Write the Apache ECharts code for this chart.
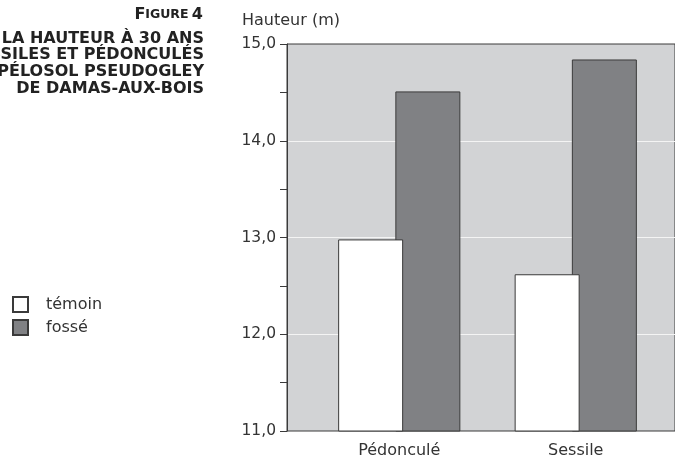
<!DOCTYPE html>
<html>
<head>
<meta charset="utf-8">
<script src="https://cdn.jsdelivr.net/npm/echarts@6/dist/echarts.min.js"></script>
<style>
  html, body { margin: 0; padding: 0; background: #fff; }
  #chart { width: 675px; height: 462px; }
</style>
</head>
<body>
<div id="chart"></div>
<script>
// data
const categories = ["Pédonculé", "Sessile"];
const temoin = [12.98, 12.62];
const fosse = [14.51, 14.84];
const yMin = 11;
const yMax = 15;
const titleLines = [
  "LA HAUTEUR À 30 ANS",
  "DES CHÊNES SESSILES ET PÉDONCULÉS",
  "SUR PÉLOSOL PSEUDOGLEY",
  "DE DAMAS-AUX-BOIS"
];

const FONT = "DejaVu Sans";
const INK = "#333333";
const EDGE = "#3a3a3a";

const chart = echarts.init(document.getElementById("chart"));

const fmt = v => v.toFixed(1).replace(".", ",");

const option = {
  animation: false,
  textStyle: { fontFamily: FONT },
  graphic: [
    {
      type: "text",
      x: 203,
      y: 15,
      style: {
        text: "{big|F}{small|IGURE} {big|4}",
        align: "right",
        verticalAlign: "middle",
        rich: {
          big: { fontSize: 16, fontWeight: "bold", fill: "#222", fontFamily: FONT },
          small: { fontSize: 12.5, fontWeight: "bold", fill: "#222", fontFamily: FONT }
        }
      }
    },
    ...titleLines.map((t, i) => ({
      type: "text",
      x: 204,
      y: 38.5 + i * 16.7,
      style: {
        text: t,
        align: "right",
        verticalAlign: "middle",
        fontSize: 16,
        fontWeight: "bold",
        fontFamily: FONT,
        fill: "#222"
      }
    }))
  ],
  legend: {
    orient: "vertical",
    left: 7,
    top: 291,
    itemWidth: 15,
    itemHeight: 15,
    itemGap: 6,
    icon: "rect",
    textStyle: { fontSize: 16, color: INK, fontFamily: FONT, padding: [0, 0, 0, 13] },
    data: ["témoin", "fossé"]
  },
  grid: [
    {
      left: 287,
      right: -20,
      top: 44,
      bottom: 31,
      show: true,
      backgroundColor: "#d2d3d5",
      borderColor: EDGE,
      borderWidth: 1
    },
    {
      left: 311,
      width: 353,
      top: 44,
      bottom: 31
    }
  ],
  xAxis: [
    { gridIndex: 0, type: "value", show: false },
    {
      gridIndex: 1,
      type: "category",
      data: categories,
      axisLine: { show: false },
      axisTick: { show: false },
      axisLabel: { margin: 12, fontSize: 16, color: INK, fontFamily: FONT }
    }
  ],
  yAxis: [
    {
      gridIndex: 0,
      type: "value",
      min: yMin,
      max: yMax,
      interval: 1,
      name: "Hauteur (m)",
      nameLocation: "end",
      nameGap: 15,
      nameTextStyle: { fontSize: 16, color: INK, fontFamily: FONT, align: "center", padding: [0, 0, 0, 8] },
      axisLine: { show: true, lineStyle: { color: EDGE, width: 1 } },
      axisTick: { show: true, length: 7, lineStyle: { color: EDGE } },
      minorTick: { show: true, splitNumber: 2, length: 7, lineStyle: { color: EDGE } },
      splitLine: {
        show: true,
        showMinLine: false,
        showMaxLine: false,
        lineStyle: { color: "#f4f4f4", width: 1 }
      },
      axisLabel: { margin: 11, fontSize: 15.5, color: INK, fontFamily: FONT, formatter: fmt }
    },
    { gridIndex: 1, type: "value", min: yMin, max: yMax, show: false }
  ],
  series: [
    {
      name: "témoin",
      type: "bar",
      xAxisIndex: 1,
      yAxisIndex: 1,
      data: temoin,
      barWidth: 65,
      barGap: "-12%",
      z: 4,
      itemStyle: { color: "#ffffff", borderColor: EDGE, borderWidth: 1 }
    },
    {
      name: "fossé",
      type: "bar",
      xAxisIndex: 1,
      yAxisIndex: 1,
      data: fosse,
      barWidth: 65,
      z: 3,
      itemStyle: { color: "#808184", borderColor: EDGE, borderWidth: 1 }
    }
  ]
};

chart.setOption(option);
</script>
</body>
</html>
